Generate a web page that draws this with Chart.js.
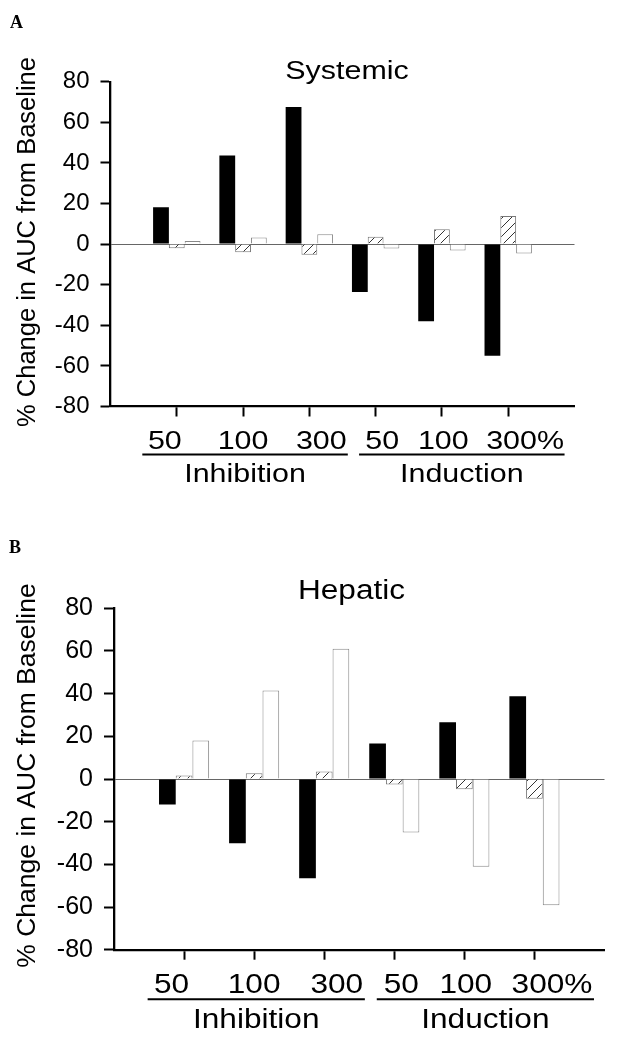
<!DOCTYPE html>
<html>
<head>
<meta charset="utf-8">
<script src="https://cdn.jsdelivr.net/npm/chart.js@4.4.1/dist/chart.umd.min.js"></script>
<style>
  html, body { margin: 0; padding: 0; background: #fff; }
  #wrap { position: relative; width: 618px; height: 1050px; }
  .panel { position: absolute; left: 0; width: 618px; height: 525px; }
</style>
</head>
<body>
<div id="wrap">
  <div class="panel" style="top:0"><canvas id="chartA" width="618" height="525"></canvas></div>
  <div class="panel" style="top:525px"><canvas id="chartB" width="618" height="525"></canvas></div>
</div>
<script>
// ---- data ----
const doseLabels = ['50', '100', '300', '50', '100', '300%'];
const groupNames = ['Inhibition', 'Induction'];
const yMin = -80, yMax = 80, yStep = 20;

// panel A - systemic
const systemicBlack   = [18.2, 43.7, 67.5, -23.6, -38.0, -55.0];
const systemicHatched = [-2.1, -4.0, -5.3, 3.6, 7.3, 13.9];
const systemicWhite   = [1.5, 3.3, 4.8, -2.2, -3.1, -4.6];

// panel B - hepatic
const hepaticBlack   = [-12.0, -30.1, -46.5, 16.6, 26.6, 38.8];
const hepaticHatched = [1.6, 2.7, 3.5, -2.6, -4.8, -9.2];
const hepaticWhite   = [18.0, 41.5, 61.1, -25.1, -41.1, -59.2];

// ---- look ----
const FONT = '"Liberation Sans", Arial, Helvetica, sans-serif';
const SX = 1.17;                 // horizontal text in the figure is a bit wide
const W = 618, H = 525;
// group underline spans and label nudges, in category units
const groupSpans = [[0.48, 3.58], [3.75, 6.85]];
const labelNudge = [-0.18, 0, 0.18, 0.1, 0.02, 0.05];

// empty slot at each end so ticks sit at 1..6
const pad = arr => [null, ...arr, null];
const catLabels = ['', ...doseLabels, ''];

function wideText(ctx, txt, x, y, size, align) {
    ctx.save();
    ctx.translate(x, y);
    ctx.scale(SX, 1);
    ctx.font = size + 'px ' + FONT;
    ctx.fillStyle = '#000';
    ctx.textAlign = align;
    ctx.textBaseline = 'alphabetic';
    ctx.fillText(txt, 0, 0);
    ctx.restore();
}

const panelDecor = {
    id: 'panelDecor',
    afterDraw(chart) {
        const L = chart.options.plugins.panelDecor;
        const ctx = chart.ctx;
        const xs = chart.scales.x;
        const x0 = xs.getPixelForValue(0);
        const pitch = xs.getPixelForValue(1) - x0;
        const at = v => x0 + v * pitch;
        const bottom = chart.chartArea.bottom;

        // panel letter
        ctx.save();
        ctx.font = 'bold 18px "Liberation Serif", "Times New Roman", serif';
        ctx.fillStyle = '#000';
        ctx.textAlign = 'left';
        ctx.fillText(L.letter, L.letterX, L.letterY);
        ctx.restore();

        // title
        wideText(ctx, L.title, L.titleX, L.titleY, L.labelFont, 'center');

        // y axis title
        ctx.save();
        ctx.translate(L.yTitleX, L.yTitleY);
        ctx.rotate(-Math.PI / 2);
        ctx.font = L.yTitleFont + 'px ' + FONT;
        ctx.fillStyle = '#000';
        ctx.textAlign = 'center';
        ctx.fillText('% Change in AUC from Baseline', 0, 0);
        ctx.restore();

        // dose labels, numeric part centred under tick
        ctx.save();
        ctx.font = L.labelFont + 'px ' + FONT;
        doseLabels.forEach((lab, i) => {
            const num = lab.replace('%', '');
            const w = ctx.measureText(num).width * SX;
            const cx = at(i + 1 + labelNudge[i]);
            wideText(ctx, lab, cx - w / 2, bottom + L.doseDy, L.labelFont, 'left');
        });
        ctx.restore();

        // underlines + group names
        ctx.save();
        ctx.strokeStyle = '#000';
        ctx.lineWidth = 2;
        groupSpans.forEach((s, i) => {
            ctx.beginPath();
            ctx.moveTo(at(s[0]), bottom + L.lineDy);
            ctx.lineTo(at(s[1]), bottom + L.lineDy);
            ctx.stroke();
            wideText(ctx, groupNames[i], at((s[0] + s[1]) / 2), bottom + L.groupDy, L.labelFont, 'center');
        });
        ctx.restore();
    }
};

function hatchPattern(ctx) {
    const c = document.createElement('canvas');
    c.width = 9; c.height = 9;
    const g = c.getContext('2d');
    g.fillStyle = '#fff';
    g.fillRect(0, 0, 9, 9);
    g.strokeStyle = '#333';
    g.lineWidth = 1;
    g.beginPath();
    g.moveTo(0, 9); g.lineTo(9, 0);
    g.moveTo(-1, 1); g.lineTo(1, -1);
    g.moveTo(8, 10); g.lineTo(10, 8);
    g.stroke();
    return ctx.createPattern(c, 'repeat');
}

function makePanel(canvasId, L, black, hatched, white) {
    const canvas = document.getElementById(canvasId);
    const ctx = canvas.getContext('2d');
    const last = catLabels.length - 1;
    return new Chart(canvas, {
        type: 'bar',
        data: {
            labels: catLabels,
            datasets: [
                { data: pad(black), backgroundColor: '#000', borderWidth: 0 },
                { data: pad(hatched), backgroundColor: hatchPattern(ctx), borderColor: '#777', borderWidth: 1 },
                { data: pad(white), backgroundColor: '#fff', borderColor: '#888', borderWidth: 1 }
            ]
        },
        options: {
            responsive: false,
            animation: false,
            layout: { padding: { left: 0, top: L.top, right: W - L.right, bottom: 0 } },
            datasets: { bar: { categoryPercentage: 0.715, barPercentage: 1.0 } },
            plugins: {
                legend: { display: false },
                tooltip: { enabled: false },
                panelDecor: L
            },
            scales: {
                x: {
                    type: 'category',
                    offset: false,
                    grid: {
                        offset: false,
                        drawOnChartArea: false,
                        drawTicks: true,
                        tickLength: 10,
                        tickWidth: 2,
                        tickColor: c => (c.index === 0 || c.index === last) ? 'rgba(0,0,0,0)' : '#000'
                    },
                    border: { display: true, color: '#000', width: 2.3 },
                    ticks: { display: false },
                    afterFit: s => { s.height = H - L.bottom; }
                },
                y: {
                    min: yMin,
                    max: yMax,
                    ticks: {
                        stepSize: yStep,
                        color: '#000',
                        padding: 11,
                        font: { family: FONT, size: L.tickFont }
                    },
                    grid: {
                        color: c => (c.tick && c.tick.value === 0) ? '#666' : 'rgba(0,0,0,0)',
                        lineWidth: 1,
                        tickColor: '#000',
                        tickWidth: 2,
                        tickLength: 10
                    },
                    border: { display: true, color: '#000', width: 2.3 },
                    afterFit: s => { s.width = L.left; }
                }
            }
        },
        plugins: [panelDecor]
    });
}

const layoutA = {
    letter: 'A', letterX: 10, letterY: 28,
    title: 'Systemic', titleX: 347, titleY: 79,
    left: 110.5, right: 574.5, top: 81.7, bottom: 406.5,
    tickFont: 24, labelFont: 26, yTitleFont: 25.5, yTitleX: 35, yTitleY: 242,
    doseDy: 42.3, lineDy: 48, groupDy: 75.6
};
const layoutB = {
    letter: 'B', letterX: 9, letterY: 28,
    title: 'Hepatic', titleX: 351.5, titleY: 73.5,
    left: 114, right: 604.5, top: 83.3, bottom: 424.7,
    tickFont: 25, labelFont: 27, yTitleFont: 26.5, yTitleX: 35, yTitleY: 250.5,
    doseDy: 43, lineDy: 49.5, groupDy: 78.5
};

makePanel('chartA', layoutA, systemicBlack, systemicHatched, systemicWhite);
makePanel('chartB', layoutB, hepaticBlack, hepaticHatched, hepaticWhite);
</script>
</body>
</html>
